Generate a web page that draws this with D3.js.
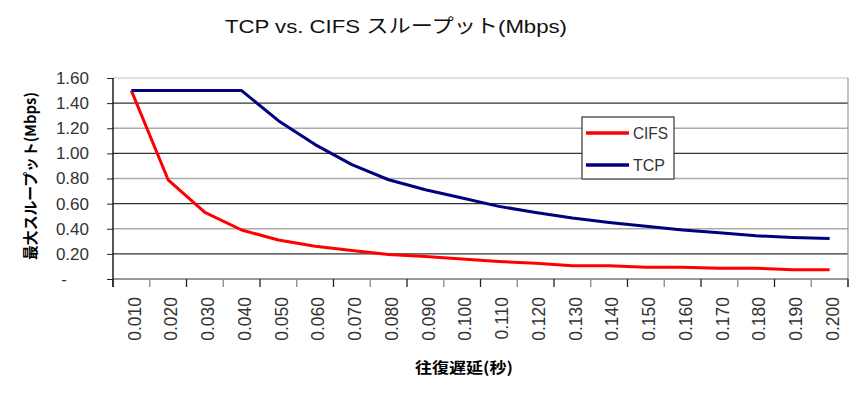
<!DOCTYPE html>
<html lang="ja">
<head>
  <meta charset="UTF-8" />
  <title>TCP vs. CIFS スループット</title>
  <script src="https://d3js.org/d3.v7.min.js"></script>
  <style>
    body{margin:0;background:#fff}
    text{font-family:"Liberation Sans",Arial,"Noto Sans CJK JP",sans-serif}
    .jp{font-family:"Noto Sans CJK JP","Liberation Sans",sans-serif}
    .tick-label{font-size:17px;fill:#333}
  </style>
</head>
<body>
  <div id="chart"></div>

  <script>
    const delays = ["0.010","0.020","0.030","0.040","0.050","0.060","0.070","0.080","0.090","0.100",
                    "0.110","0.120","0.130","0.140","0.150","0.160","0.170","0.180","0.190","0.200"];
    const cifs = [1.50,0.79,0.53,0.39,0.31,0.26,0.226,0.195,0.18,0.16,
                  0.14,0.125,0.106,0.106,0.093,0.093,0.085,0.085,0.074,0.074];
    const tcp  = [1.50,1.50,1.50,1.50,1.26,1.07,0.91,0.79,0.71,0.645,
                  0.578,0.53,0.485,0.45,0.42,0.39,0.368,0.344,0.33,0.322];
    const yTicks = [0,0.2,0.4,0.6,0.8,1.0,1.2,1.4,1.6];
    const series = [
      {name: "CIFS", values: cifs, color: "#ff0000"},
      {name: "TCP",  values: tcp,  color: "#000080"}
    ];

    const W = 868, H = 393;
    const svg = d3.select("#chart").append("svg").attr("width", W).attr("height", H);

    const x = d3.scaleBand().domain(delays).range([113, 848]).padding(0);
    const y = d3.scaleLinear().domain([0, 1.6]).range([279, 78]);
    const cx = d => x(d) + x.bandwidth() / 2;

    // title
    svg.append("text").attr("x", 396).attr("y", 33).attr("text-anchor", "middle")
      .attr("textLength", 342).attr("lengthAdjust", "spacingAndGlyphs")
      .style("font-size", "19px").style("fill", "#111")
      .text("TCP vs. CIFS スループット(Mbps)");

    // gridlines (alternating tone like the original raster)
    svg.append("g").selectAll("line").data(yTicks.filter(v => v > 0 && v < 1.6)).enter().append("line")
      .attr("x1", 113).attr("x2", 848)
      .attr("y1", d => y(d)).attr("y2", d => y(d))
      .attr("stroke", (d, i) => i % 2 ? "#aaa" : "#333")
      .attr("stroke-width", 1.4);

    // plot border top / right, baseline
    svg.append("line").attr("x1", 113).attr("x2", 848).attr("y1", y(1.6)).attr("y2", y(1.6)).attr("stroke", "#c4c4c4").attr("stroke-width", 1.2);
    svg.append("line").attr("x1", 848).attr("x2", 848).attr("y1", y(1.6)).attr("y2", 287).attr("stroke", "#999").attr("stroke-width", 1.2);
    svg.append("line").attr("x1", 113).attr("x2", 848).attr("y1", y(0)).attr("y2", y(0)).attr("stroke", "#777").attr("stroke-width", 1.3);

    // y axis
    const yAxis = svg.append("g").attr("transform", "translate(113,0)")
      .call(d3.axisLeft(y).tickValues(yTicks).tickSize(6).tickPadding(18)
        .tickFormat(d => d === 0 ? "-" : d3.format(".2f")(d)));
    yAxis.select(".domain").remove();
    yAxis.selectAll(".tick line").attr("stroke", "#222");
    yAxis.selectAll(".tick text").attr("class", "tick-label").style("font-size", "17px").style("fill", "#333")
      .attr("font-family", null);
    yAxis.selectAll(".tick text").filter(d => d === 0).attr("x", -46);
    svg.append("line").attr("x1", 113).attr("x2", 113).attr("y1", y(1.6)).attr("y2", 287)
      .attr("stroke", "#111").attr("stroke-width", 1.4);

    // x axis ticks at category boundaries
    const bounds = delays.map(d => x(d)).concat([x.range()[1]]);
    svg.append("g").selectAll("line").data(bounds).enter().append("line")
      .attr("x1", d => d).attr("x2", d => d).attr("y1", 279).attr("y2", 287)
      .attr("stroke", (d, i) => i % 2 ? "#888" : "#222").attr("stroke-width", 1.3);

    // x labels, rotated
    svg.append("g").selectAll("text").data(delays).enter().append("text")
      .attr("transform", d => `translate(${cx(d) + 3},297) rotate(-90)`)
      .attr("dy", "0.35em").attr("text-anchor", "end")
      .style("font-size", "17.5px").style("fill", "#333")
      .text(d => d);

    // axis titles
    svg.append("text").attr("class", "jp")
      .attr("transform", "translate(36,176) rotate(-90)")
      .attr("text-anchor", "middle").attr("textLength", 168).attr("lengthAdjust", "spacingAndGlyphs")
      .style("font-size", "15px").style("font-weight", "bold").style("fill", "#000")
      .text("最大スループット(Mbps)");
    svg.append("text").attr("class", "jp")
      .attr("x", 464).attr("y", 373).attr("text-anchor", "middle")
      .attr("textLength", 98).attr("lengthAdjust", "spacingAndGlyphs")
      .style("font-size", "15px").style("font-weight", "bold").style("fill", "#000")
      .text("往復遅延(秒)");

    // lines
    const line = d3.line().x((v, i) => cx(delays[i])).y(v => y(v));
    svg.append("g").selectAll("path").data(series).enter().append("path")
      .attr("d", d => line(d.values))
      .attr("fill", "none").attr("stroke", d => d.color).attr("stroke-width", 3)
      .attr("stroke-linejoin", "round");

    // legend
    const lg = svg.append("g").attr("transform", "translate(582,117)");
    lg.append("rect").attr("width", 92).attr("height", 62).attr("fill", "#fff").attr("stroke", "#333").attr("stroke-width", 1.2);
    const items = lg.selectAll("g").data(series).enter().append("g")
      .attr("transform", (d, i) => `translate(0,${16 + i * 32})`);
    items.append("line").attr("x1", 4).attr("x2", 47).attr("stroke", d => d.color).attr("stroke-width", 3.5);
    items.append("text").attr("x", 51).attr("dy", "0.35em")
      .attr("textLength", d => d.name === "CIFS" ? 35 : 32).attr("lengthAdjust", "spacingAndGlyphs")
      .style("font-size", "17px").style("fill", "#333").text(d => d.name);
    // gridline that runs along the legend bottom edge
    svg.append("line").attr("x1", 582).attr("x2", 674).attr("y1", y(0.8)).attr("y2", y(0.8)).attr("stroke", "#888").attr("stroke-width", 1.2);
  </script>
</body>
</html>
